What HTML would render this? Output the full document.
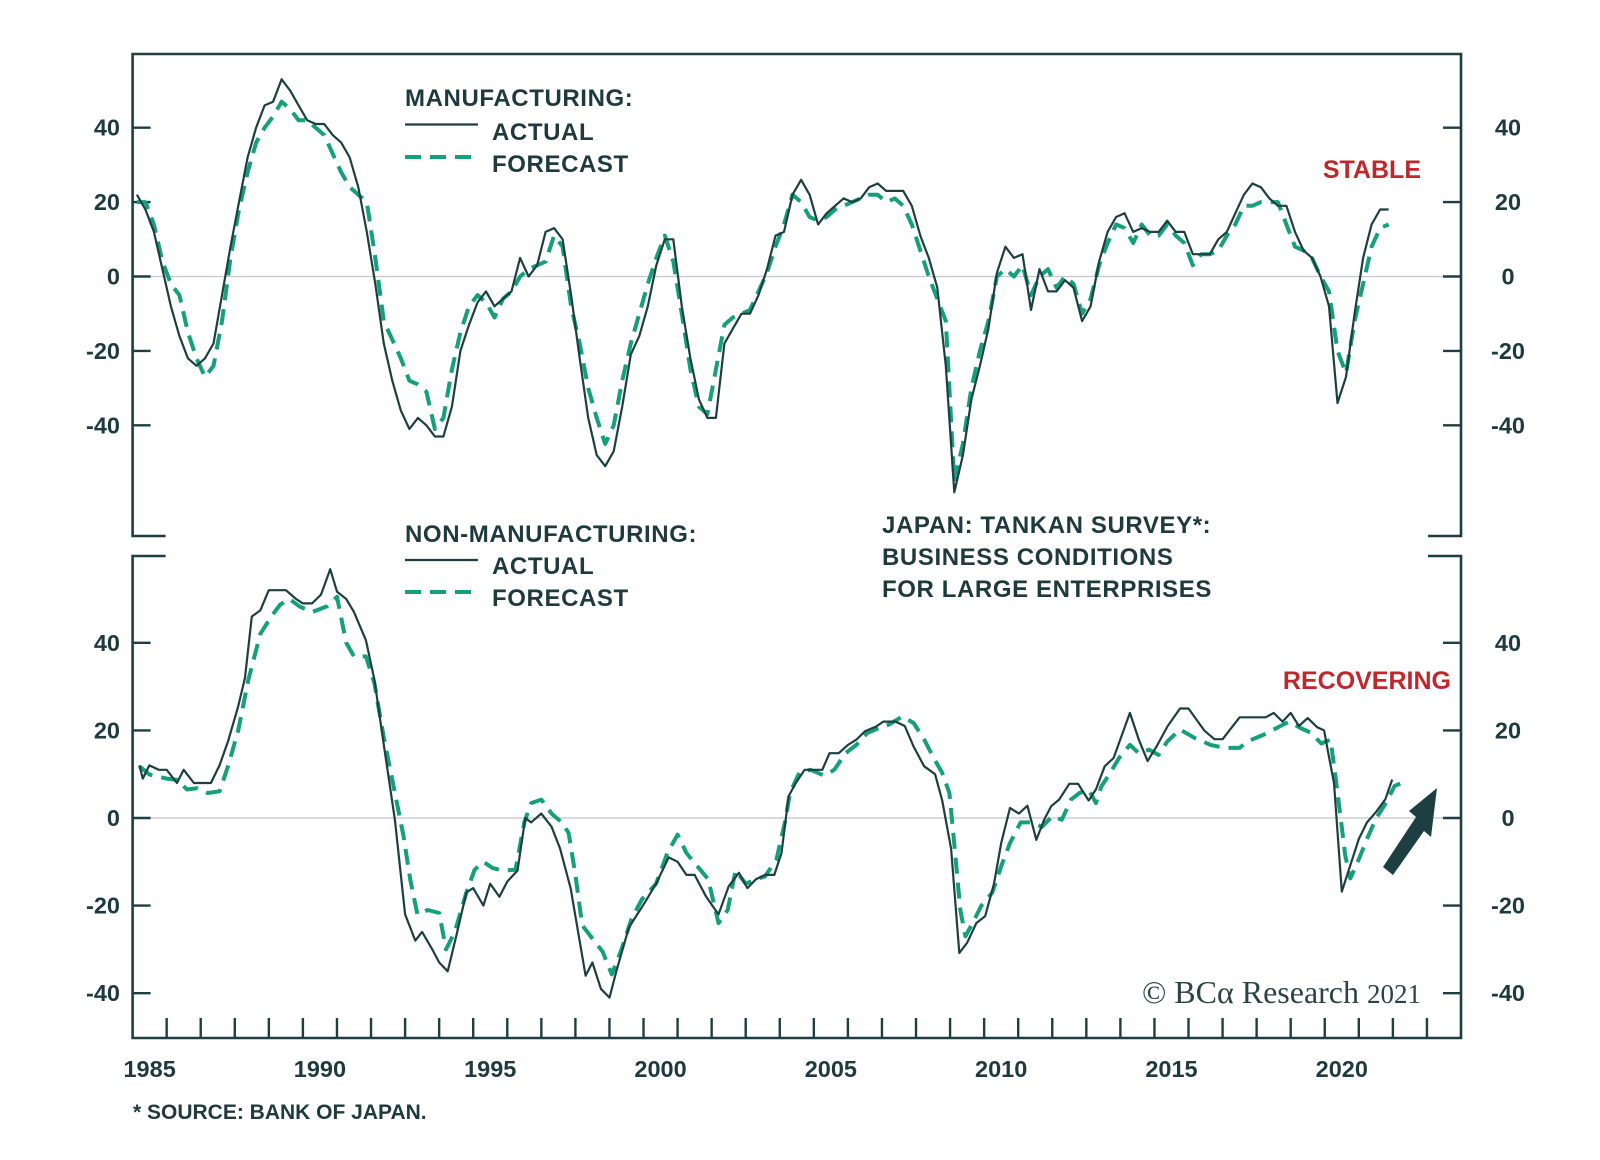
<!DOCTYPE html>
<html><head><meta charset="utf-8"><style>
html,body{margin:0;padding:0;background:#fff;}
svg{display:block;}
text{font-family:"Liberation Sans",Arial,sans-serif;font-weight:bold;fill:#1f3a3d;}
.lg{font-size:24px;letter-spacing:0.6px;}
</style></head><body>
<svg id="chart" width="1600" height="1160" viewBox="0 0 1600 1160" xmlns="http://www.w3.org/2000/svg">
<g id="frame"></g>
<g id="ticks"></g>
<g id="series"></g>
<g>
<text x="405" y="106" class="lg">MANUFACTURING:</text>
<line x1="405" y1="124.5" x2="478" y2="124.5" stroke="#1d3f42" stroke-width="2.2"/>
<text x="492" y="140" class="lg">ACTUAL</text>
<line x1="405" y1="157" x2="478" y2="157" stroke="#13a07a" stroke-width="4" stroke-dasharray="16,9"/>
<text x="492" y="172" class="lg">FORECAST</text>
</g>
<g>
<text x="405" y="542" class="lg">NON-MANUFACTURING:</text>
<line x1="405" y1="560" x2="478" y2="560" stroke="#1d3f42" stroke-width="2.2"/>
<text x="492" y="574" class="lg">ACTUAL</text>
<line x1="405" y1="592" x2="478" y2="592" stroke="#13a07a" stroke-width="4" stroke-dasharray="16,9"/>
<text x="492" y="606" class="lg">FORECAST</text>
</g>
<g>
<text x="882" y="533" class="lg">JAPAN: TANKAN SURVEY*:</text>
<text x="882" y="565" class="lg">BUSINESS CONDITIONS</text>
<text x="882" y="597" class="lg">FOR LARGE ENTERPRISES</text>
</g>
<text x="1421" y="178" font-size="25" text-anchor="end" style="fill:#c0272d">STABLE</text>
<text x="1451" y="689" font-size="25" text-anchor="end" style="fill:#c0272d">RECOVERING</text>
<polygon points="1383,867 1393,875 1424,831 1431,837 1437,788 1409,811 1416,817" fill="#1d3f42"/>
<text x="1421" y="1003" font-size="32" text-anchor="end" style="font-family:'Liberation Serif',serif;font-weight:normal;fill:#2a4446">© BCα Research <tspan font-size="27">2021</tspan></text>
<text x="133" y="1119" font-size="21">* SOURCE: BANK OF JAPAN.</text>
</svg>
<script>
// ---- data ----
const mStartYear = 1985.125;
const mActual = [22,18,12,2,-8,-16,-22,-24,-22,-18,-5,8,20,32,40,46,47,53,50,46,42,41,41,38,36,32,24,12,-2,-18,-28,-36,-41,-38,-40,-43,-43,-35,-20,-13,-7,-4,-8,-6,-4,5,0,3,12,13,10,-5,-22,-38,-48,-51,-47,-35,-21,-16,-8,3,10,10,-8,-22,-33,-38,-38,-18,-14,-10,-10,-5,2,11,12,22,26,22,14,17,19,21,20,21,24,25,23,23,23,19,11,5,-3,-24,-58,-48,-33,-24,-14,1,8,5,6,-9,2,-4,-4,-1,-3,-12,-8,4,12,16,17,12,13,12,12,15,12,12,6,6,6,10,12,17,22,25,24,21,19,19,12,7,5,0,-8,-34,-27,-10,5,14,18,18];
const mForecast = [20,20,14,4,-2,-5,-15,-22,-27,-24,-12,5,18,28,36,40,43,47,45,42,42,40,38,33,28,24,22,20,5,-12,-17,-22,-28,-29,-31,-41,-38,-25,-15,-8,-5,-7,-11,-6,-4,0,2,3,4,11,8,-8,-18,-30,-38,-45,-40,-28,-18,-10,-2,5,11,4,-10,-25,-35,-37,-25,-13,-11,-10,-9,-4,1,8,14,22,20,16,15,16,18,19,20,21,22,22,20,21,19,14,7,0,-6,-12,-55,-45,-30,-20,-12,0,2,0,3,-5,0,2,-3,0,-2,-10,-6,3,9,14,13,9,14,11,11,14,11,9,3,6,6,7,11,14,19,19,20,20,20,14,8,7,5,0,-4,-20,-26,-12,-2,8,13,14];
const nmActualT = [1985.2,1985.3,1985.49,1985.77,1986.0,1986.3,1986.5,1986.8,1987.3,1987.55,1987.8,1988.1,1988.3,1988.5,1988.75,1989.0,1989.5,1989.8,1990.0,1990.27,1990.53,1990.8,1991.0,1991.27,1991.5,1991.85,1992.1,1992.37,1992.7,1993.0,1993.3,1993.5,1993.8,1994.0,1994.25,1994.5,1994.8,1995.0,1995.3,1995.5,1995.77,1996.0,1996.3,1996.53,1996.7,1997.0,1997.3,1997.55,1997.86,1998.3,1998.5,1998.75,1999.0,1999.2,1999.57,2000.06,2000.37,2000.74,2001.0,2001.26,2001.5,2001.84,2002.2,2002.5,2002.8,2003.05,2003.3,2003.57,2003.84,2004.05,2004.26,2004.47,2004.73,2005.25,2005.46,2005.73,2006.0,2006.25,2006.5,2006.83,2007.04,2007.4,2007.67,2007.93,2008.24,2008.56,2008.77,2009.03,2009.27,2009.5,2009.77,2010.03,2010.29,2010.5,2010.76,2011.02,2011.27,2011.53,2011.76,2011.97,2012.2,2012.5,2012.76,2013.07,2013.28,2013.54,2013.8,2014.28,2014.54,2014.8,2015.06,2015.38,2015.75,2016.0,2016.46,2016.76,2017.0,2017.5,2018.27,2018.5,2018.76,2019.0,2019.24,2019.5,2019.78,2019.98,2020.1,2020.27,2020.5,2020.75,2021.0,2021.24,2021.5,2021.78,2021.98];
const nmActualV = [12,9,12,11,11,8,11,8,8,12,17.5,25.5,32,46,47.4,52,52,50,49,49,51,56.8,51.7,50,47,40.6,31.6,17,-0.4,-22,-28,-26,-30,-33,-35,-27,-17,-16,-20,-15,-18,-14.5,-12,0,-1,1,-2,-7,-16,-36,-33,-39,-41,-35,-25,-19,-15,-9,-10,-13,-13,-18,-22,-15.6,-12.5,-16,-14,-13,-13,-8,5,8,11,11,14.8,14.8,16.7,17.9,19.8,20.9,22,22,21,16.3,11.8,10,4,-7,-30.8,-28.5,-24,-22.4,-15,-5.7,2.3,1,2.8,-5,-0.4,2.7,4.2,7.8,7.8,4,6.5,11.8,13.7,24,17.9,13,16.3,20.9,25,25,20,18,18,23,23,24,22,24,21,22.8,20.7,20,14.9,8,-16.8,-10.8,-4.8,-1,1.3,4.3,8.8];
const nmForecastT = [1985.2,1985.5,1986.0,1986.3,1986.6,1986.9,1987.2,1987.55,1987.8,1988.1,1988.4,1988.75,1989.07,1989.33,1989.6,1989.9,1990.27,1990.7,1991.0,1991.27,1991.5,1991.85,1992.1,1992.37,1992.7,1992.95,1993.15,1993.36,1993.67,1994.0,1994.2,1994.46,1994.8,1995.04,1995.3,1995.56,1995.87,1996.24,1996.5,1996.7,1997.0,1997.3,1997.6,1997.8,1998.0,1998.2,1998.5,1998.8,1999.07,1999.33,1999.65,1999.95,2000.37,2000.7,2001.0,2001.26,2001.58,2001.9,2002.2,2002.47,2002.7,2003.0,2003.3,2003.57,2003.9,2004.15,2004.3,2004.57,2004.9,2005.3,2005.6,2005.93,2006.25,2006.57,2006.9,2007.2,2007.6,2007.93,2008.24,2008.5,2008.77,2008.98,2009.14,2009.3,2009.45,2009.66,2009.92,2010.24,2010.5,2010.76,2011.07,2011.4,2011.7,2012.0,2012.28,2012.55,2012.8,2013.07,2013.28,2013.44,2013.7,2013.96,2014.28,2014.54,2014.85,2015.12,2015.38,2015.75,2016.2,2016.65,2017.06,2017.5,2017.73,2018.2,2018.7,2018.95,2019.3,2019.6,2019.9,2020.17,2020.3,2020.46,2020.6,2020.75,2021.0,2021.24,2021.5,2021.8,2022.05,2022.25];
const nmForecastV = [11.8,9.9,9,8.7,6.5,6.8,5.7,6.1,11.8,20,31.6,42,46,48.7,50,48.3,47,48.3,50.5,40,36.9,36.9,30.8,18.6,5.7,-4,-14,-22,-21,-21.7,-30,-26,-17,-11.8,-10,-11.4,-12,-11.8,-1,3.4,4.2,1,-1,-3.4,-13,-24.5,-27.5,-30.5,-35.7,-30.5,-23,-18.6,-15,-8,-3.8,-8,-11,-14,-24,-21,-12,-15,-14,-13.3,-9.5,-1,5.7,10.3,11,9.7,11,14.8,16.7,19.4,20.5,21.3,23.2,21.7,17.9,14,10.3,5.7,-7.2,-21,-27,-24,-20,-17,-11,-5.7,-1,-1,-2,0.4,-0.4,4.2,5.7,6.5,3.4,7.2,10.3,13.7,16.7,14.8,15.6,14.4,17.5,20.2,18.2,16.7,16,16,17.5,19,21,22,20.5,19.4,17,17.9,10.3,0.5,-8.5,-13.8,-9.4,-4.8,-0.2,3.5,7.3,8];
const yTickValues = [40,20,0,-20,-40];
const yearLabels = [1985,1990,1995,2000,2005,2010,2015,2020];

// ---- scales ----
const X0=132.6, X1=1461, T0=1985, T1=2024;
function xs(t){return X0+(t-T0)*(X1-X0)/(T1-T0);}
function yTop(v){return 276.5-v*3.72;}
function yBot(v){return 818-v*4.38;}
const NS='http://www.w3.org/2000/svg';
function mk(tag,attrs,parent){const e=document.createElementNS(NS,tag);for(const k in attrs)e.setAttribute(k,attrs[k]);parent.appendChild(e);return e;}
const frame=document.getElementById('frame'), ticks=document.getElementById('ticks'), series=document.getElementById('series');
const AX='#1d3f42';

let z1=mk('line',{x1:X0,x2:X1,y1:yTop(0),y2:yTop(0),stroke:'#c4c8c8','stroke-width':1.3},frame);


let z2=mk('line',{x1:X0,x2:X1,y1:yBot(0),y2:yBot(0),stroke:'#c4c8c8','stroke-width':1.3},frame);



let f1=mk('path',{d:`M${X0+33},536 H${X0} V54 H${X1} V536 H${X1-33}`,fill:'none',stroke:AX,'stroke-width':2.6},frame);


let f2=mk('path',{d:`M${X0+33},556 H${X0} V1038 H${X1} V556 H${X1-33}`,fill:'none',stroke:AX,'stroke-width':2.6},frame);



[[yTop,'top'],[yBot,'bottom']].forEach(([ys,nm])=>{
  yTickValues.forEach(v=>{
    const y=ys(v);
    let l=mk('line',{x1:X0,x2:X0+18,y1:y,y2:y,stroke:AX,'stroke-width':2.4},ticks);
    
    
    let r=mk('line',{x1:X1-18,x2:X1,y1:y,y2:y,stroke:AX,'stroke-width':2.4},ticks);
    
    
    let tl=mk('text',{x:120,y:y+8,'font-size':23.5,'text-anchor':'end'},ticks);
    tl.textContent=String(v);
    
    
    let tr=mk('text',{x:1508,y:y+8,'font-size':23.5,'text-anchor':'middle'},ticks);
    tr.textContent=String(v);
    
    
  });
});
for(let yr=1986; yr<=2023; yr++){
  let l=mk('line',{x1:xs(yr),x2:xs(yr),y1:1038,y2:1018,stroke:AX,'stroke-width':2.4},ticks);
  
  
}
yearLabels.forEach(yr=>{
  let t=mk('text',{x:xs(yr+0.5),y:1077,'font-size':23.5,'text-anchor':'middle'},ticks);
  t.textContent=String(yr);
  
  
});

function pathFrom(ts,vs,ys){return ts.map((t,i)=>(i?'L':'M')+xs(t).toFixed(1)+','+ys(vs[i]).toFixed(1)).join(' ');}
const mT=mActual.map((_,i)=>mStartYear+i*0.25);
const mFT=mForecast.map((_,i)=>mStartYear+i*0.25);
let p;
p=mk('path',{d:pathFrom(mFT,mForecast,yTop),fill:'none',stroke:'#13a07a','stroke-width':4,'stroke-dasharray':'16,9','stroke-linejoin':'round'},series);


p=mk('path',{d:pathFrom(mT,mActual,yTop),fill:'none',stroke:'#1d3f42','stroke-width':2.2,'stroke-linejoin':'round'},series);


p=mk('path',{d:pathFrom(nmForecastT,nmForecastV,yBot),fill:'none',stroke:'#13a07a','stroke-width':4,'stroke-dasharray':'16,9','stroke-linejoin':'round'},series);


p=mk('path',{d:pathFrom(nmActualT,nmActualV,yBot),fill:'none',stroke:'#1d3f42','stroke-width':2.2,'stroke-linejoin':'round'},series);


</script>
</body></html>
